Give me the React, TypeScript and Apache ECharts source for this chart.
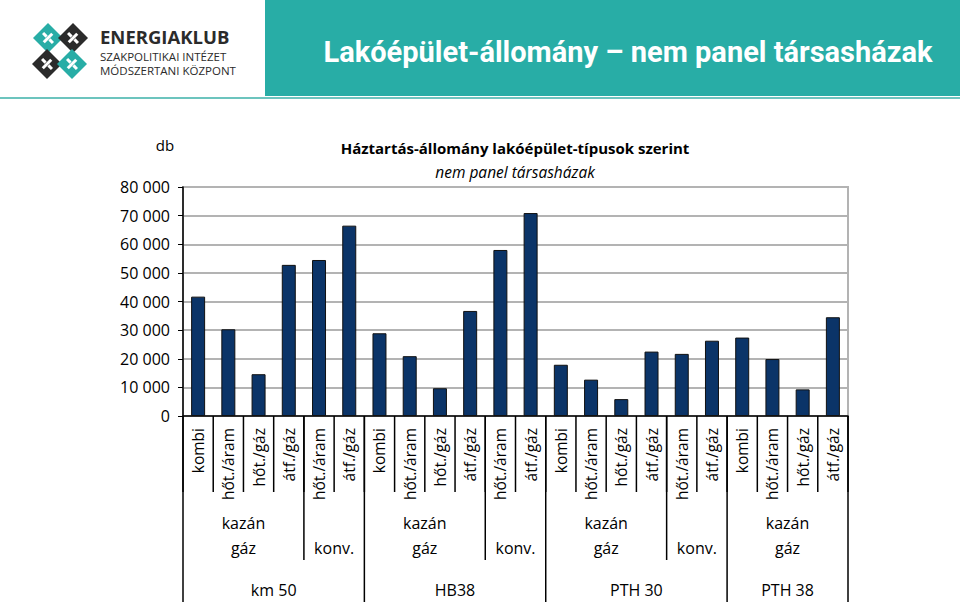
import React, { useEffect, useRef } from "react";
import * as echarts from "echarts";

const categories = [
  "kombi", "hőt./áram", "hőt./gáz", "átf./gáz", "hőt./áram", "átf./gáz",
  "kombi", "hőt./áram", "hőt./gáz", "átf./gáz", "hőt./áram", "átf./gáz",
  "kombi", "hőt./áram", "hőt./gáz", "átf./gáz", "hőt./áram", "átf./gáz",
  "kombi", "hőt./áram", "hőt./gáz", "átf./gáz",
];
const values = [
  41700, 30300, 14600, 52800, 54500, 66500,
  28900, 20900, 9700, 36700, 58000, 70900,
  17900, 12700, 5900, 22500, 21700, 26300,
  27400, 19900, 9300, 34500,
];
// building groups and their sizes (number of categories)
const buildings = ["km 50", "HB38", "PTH 30", "PTH 38"];
const buildingSizes = [6, 6, 6, 4];
// sub-groups inside each building: top line, bottom line, sizes
const subTop = ["kazán", ""];
const subBottom = ["gáz", "konv."];
const subSizes = [
  [4, 2],
  [4, 2],
  [4, 2],
  [4],
];
const yTicks = [0, 10000, 20000, 30000, 40000, 50000, 60000, 70000, 80000];

const TEAL = "#28ADA6";
const FONT = "'Open Sans', 'Noto Sans', sans-serif";

export default function App() {
  const ref = useRef<HTMLDivElement>(null);
  useEffect(() => {
    const chart = echarts.init(ref.current!, null, { renderer: "svg" });
    chart.setOption({
      animation: false,
      grid: {
        left: 183,
        right: 112,
        top: 187,
        bottom: 186,
        show: true,
        borderColor: "#B3B3B3",
        borderWidth: 2,
        backgroundColor: "transparent",
      },
      xAxis: {
        type: "category",
        data: categories,
        axisLine: { lineStyle: { color: "#000", width: 1.5 } },
        axisTick: { show: false },
        axisLabel: {
          rotate: 90,
          interval: 0,
          margin: 12,
          fontSize: 15.5,
          color: "#000",
          fontFamily: FONT,
        },
      },
      yAxis: {
        type: "value",
        min: yTicks[0],
        max: yTicks[yTicks.length - 1],
        interval: 10000,
        axisLine: { show: true, lineStyle: { color: "#000", width: 1.5 } },
        axisTick: { show: true, length: 5, lineStyle: { color: "#000" } },
        splitLine: { lineStyle: { color: "#B3B3B3", width: 2 } },
        axisLabel: {
          margin: 13,
          fontSize: 16,
          color: "#000",
          fontFamily: FONT,
          formatter: (v: number) =>
            String(v).replace(/\B(?=(\d{3})+(?!\d))/g, " "),
        },
      },
      series: [
        {
          type: "bar",
          data: values,
          barWidth: 14,
          itemStyle: { color: "#0B3468", borderColor: "#111", borderWidth: 1 },
        },
      ],
    });

    const xs = categories.map((_, i) =>
      chart.convertToPixel({ xAxisIndex: 0 }, i) as number
    );
    const step = xs[1] - xs[0];
    const bound = (i: number) => xs[0] - step / 2 + i * step;
    const y0 = chart.convertToPixel({ yAxisIndex: 0 }, 0) as number;

    const graphic: any[] = [];
    // header
    graphic.push({
      type: "rect",
      shape: { x: 265, y: 0, width: 695, height: 96 },
      style: { fill: TEAL },
    });
    graphic.push({
      type: "rect",
      shape: { x: 0, y: 97, width: 960, height: 2 },
      style: { fill: "#6CC4BE" },
    });
    graphic.push({
      type: "text",
      x: 628,
      y: 52,
      style: {
        text: "Lakóépület-állomány – nem panel társasházak",
        fill: "#fff",
        font: `bold 29px Roboto, sans-serif`,
        align: "center",
        verticalAlign: "middle",
      },
    });
    // logo diamonds
    const diamonds = [
      { cx: 48, cy: 38, c: TEAL },
      { cx: 73, cy: 38, c: "#2B2B2B" },
      { cx: 47, cy: 64, c: "#2B2B2B" },
      { cx: 72, cy: 64, c: TEAL },
    ];
    diamonds.forEach((d) => {
      const h = 15;
      graphic.push({
        type: "polygon",
        shape: {
          points: [
            [d.cx, d.cy - h],
            [d.cx + h, d.cy],
            [d.cx, d.cy + h],
            [d.cx - h, d.cy],
          ],
        },
        style: { fill: d.c },
      });
      graphic.push({
        type: "rect",
        x: d.cx,
        y: d.cy,
        rotation: Math.PI / 4,
        shape: { x: -6, y: -1.5, width: 12, height: 3 },
        style: { fill: "#fff" },
      });
      graphic.push({
        type: "rect",
        x: d.cx,
        y: d.cy,
        rotation: Math.PI / 4,
        shape: { x: -1.5, y: -7, width: 3, height: 5 },
        style: { fill: "#fff" },
      });
      graphic.push({
        type: "rect",
        x: d.cx,
        y: d.cy,
        rotation: Math.PI / 4,
        shape: { x: -1.5, y: 2, width: 3, height: 5 },
        style: { fill: "#fff" },
      });
    });
    graphic.push({
      type: "text",
      x: 100,
      y: 36,
      style: {
        text: "ENERGIAKLUB",
        fill: "#2B2B2B",
        font: `bold 18.5px ${FONT}`,
        verticalAlign: "middle",
        lineHeight: 20,
      },
    });
    graphic.push({
      type: "text",
      x: 100,
      y: 56,
      style: {
        text: "SZAKPOLITIKAI INTÉZET",
        fill: "#2B2B2B",
        font: `11.5px ${FONT}`,
        verticalAlign: "middle",
        lineHeight: 13,
      },
    });
    graphic.push({
      type: "text",
      x: 100,
      y: 70,
      style: {
        text: "MÓDSZERTANI KÖZPONT",
        fill: "#2B2B2B",
        font: `11.5px ${FONT}`,
        verticalAlign: "middle",
        lineHeight: 13,
      },
    });
    // chart titles
    graphic.push({
      type: "text",
      x: 515,
      y: 148,
      style: {
        text: "Háztartás-állomány lakóépület-típusok szerint",
        fill: "#000",
        font: `bold 15px ${FONT}`,
        align: "center",
        verticalAlign: "middle",
      },
    });
    graphic.push({
      type: "text",
      x: 515,
      y: 172,
      style: {
        text: "nem panel társasházak",
        fill: "#000",
        font: `italic 15.5px ${FONT}`,
        align: "center",
        verticalAlign: "middle",
      },
    });
    graphic.push({
      type: "text",
      x: 165,
      y: 145,
      style: {
        text: "db",
        fill: "#000",
        font: `15px ${FONT}`,
        align: "center",
        verticalAlign: "middle",
      },
    });

    // separators and group labels
    const line = (x: number, y2: number) =>
      graphic.push({
        type: "line",
        shape: { x1: x, y1: y0, x2: x, y2 },
        style: { stroke: "#000", lineWidth: 1.5 },
      });
    for (let i = 0; i <= categories.length; i++) line(bound(i), 492);
    let start = 0;
    buildings.forEach((b, bi) => {
      const n = buildingSizes[bi];
      line(bound(start), 602);
      let s = start;
      subSizes[bi].forEach((sn, si) => {
        if (si > 0) line(bound(s), 560);
        const cx = (bound(s) + bound(s + sn)) / 2;
        if (subTop[si])
          graphic.push({
            type: "text",
            x: cx,
            y: 523,
            style: {
              text: subTop[si],
              fill: "#000",
              font: `16px ${FONT}`,
              align: "center",
              verticalAlign: "middle",
            },
          });
        graphic.push({
          type: "text",
          x: cx,
          y: 548,
          style: {
            text: subBottom[si],
            fill: "#000",
            font: `16px ${FONT}`,
            align: "center",
            verticalAlign: "middle",
          },
        });
        s += sn;
      });
      graphic.push({
        type: "text",
        x: (bound(start) + bound(start + n)) / 2,
        y: 590,
        style: {
          text: b,
          fill: "#000",
          font: `16px ${FONT}`,
          align: "center",
          verticalAlign: "middle",
        },
      });
      start += n;
    });
    line(bound(categories.length), 602);

    chart.setOption({ graphic });
    return () => chart.dispose();
  }, []);
  return (
    <div
      ref={ref}
      style={{ position: "absolute", left: 0, top: 0, width: 960, height: 602 }}
    />
  );
}
